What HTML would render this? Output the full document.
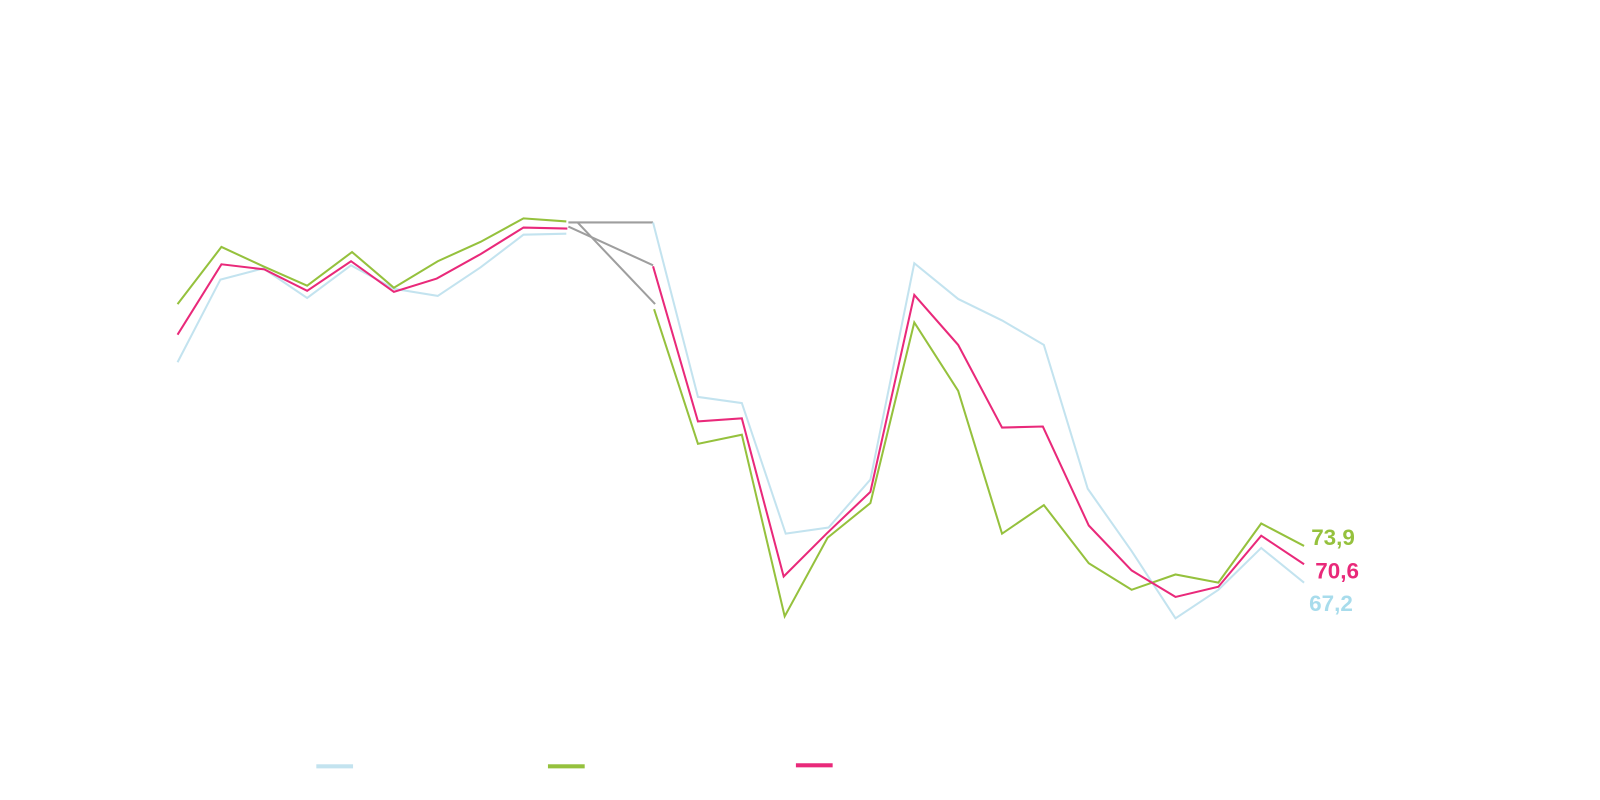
<!DOCTYPE html>
<html><head><style>body{margin:0;background:#fff}svg{display:block}</style></head><body>
<svg width="1600" height="800" xmlns="http://www.w3.org/2000/svg" font-family="Liberation Sans, sans-serif">
<g transform="scale(1.0204)">
<g fill="none" stroke-width="2" stroke-linejoin="miter">
<polyline stroke="#9e9e9e" points="557,218 640,218"/>
<polyline stroke="#9e9e9e" points="557,222 640,260"/>
<polyline stroke="#9e9e9e" points="566,218 642,298"/>
<polyline stroke="#c3e3ef" points="174,355 216,274 258,263 301,292 344,260 386,283 429,290 471,262 513,230 555,229"/>
<polyline stroke="#c3e3ef" points="640,218 684,389 727,395 770,523 812,517 853,470 896,258 939,293 982,314 1023,338 1066,479 1109,540 1152,606 1194,578 1236,537 1278,571"/>
<polyline stroke="#95c13d" points="174,298 217,242 258,261 301,280 345,247 386,282 429,256 471,237 513,214 555,217"/>
<polyline stroke="#95c13d" points="641,303 684,435 727,426 769,604 811,527 853,493 896,316 939,383 982,523 1023,495 1067,552 1109,578 1152,563 1194,571 1236,513 1278,535"/>
<polyline stroke="#e9297a" points="174,328 217,259 259,264 301,285 344,256 386,286 428,273 471,249 513,223 556,224"/>
<polyline stroke="#e9297a" points="640,261 684,413 727,410 768,565 810,523 853,482 896,289 939,338 982,419 1022,418 1067,515 1109,559 1152,585 1194,575 1236,525 1278,553"/>
</g>
<g font-weight="bold" font-size="22">
<text x="1285" y="534" fill="#95c13d">73,9</text>
<text x="1289" y="567" fill="#e9297a">70,6</text>
<text x="1283" y="599" fill="#a8dcec">67,2</text>
</g>
<rect x="310" y="749" width="36" height="4" fill="#c3e3ef"/>
<rect x="537" y="749" width="36" height="4" fill="#95c13d"/>
<rect x="780" y="748" width="36" height="4" fill="#e9297a"/>
</g>
</svg>
</body></html>
